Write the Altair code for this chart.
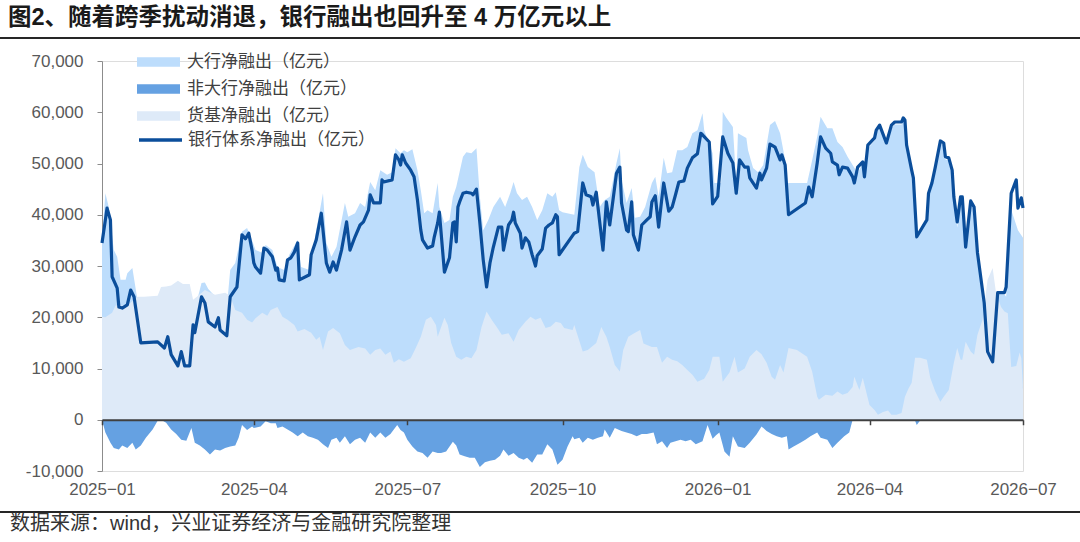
import altair as alt
import pandas as pd

# ---------------- data ----------------
title_text = "图2、随着跨季扰动消退，银行融出也回升至 4 万亿元以上"
source_text = "数据来源：wind，兴业证券经济与金融研究院整理"

series_names = ["大行净融出（亿元）", "非大行净融出（亿元）", "货基净融出（亿元）", "银行体系净融出（亿元）"]
series_colors = ["#BDDDFC", "#65A1E2", "#DEEAF8", "#0B4E9B"]

# 银行体系净融出
line_dates = [
    "2025-01-01", "2025-01-03", "2025-01-04", "2025-01-06", "2025-01-07", "2025-01-10", "2025-01-11", "2025-01-13",
    "2025-01-16", "2025-01-18", "2025-01-20", "2025-01-24", "2025-02-03", "2025-02-07", "2025-02-09", "2025-02-11",
    "2025-02-15", "2025-02-17", "2025-02-19", "2025-02-22", "2025-02-24", "2025-02-25", "2025-03-01", "2025-03-03",
    "2025-03-05", "2025-03-09", "2025-03-11", "2025-03-12", "2025-03-16", "2025-03-18", "2025-03-22", "2025-03-25",
    "2025-03-27", "2025-03-29", "2025-03-31", "2025-04-01", "2025-04-02", "2025-04-05", "2025-04-07", "2025-04-09",
    "2025-04-12", "2025-04-14", "2025-04-15", "2025-04-16", "2025-04-19", "2025-04-21", "2025-04-23", "2025-04-25",
    "2025-04-27", "2025-04-28", "2025-05-04", "2025-05-05", "2025-05-08", "2025-05-11", "2025-05-14", "2025-05-16",
    "2025-05-18", "2025-05-20", "2025-05-23", "2025-05-26", "2025-05-28", "2025-05-31", "2025-06-03", "2025-06-05",
    "2025-06-08", "2025-06-09", "2025-06-11", "2025-06-15", "2025-06-16", "2025-06-17", "2025-06-22", "2025-06-24",
    "2025-06-26", "2025-06-27", "2025-06-28", "2025-06-30", "2025-07-03", "2025-07-05", "2025-07-07", "2025-07-09",
    "2025-07-10", "2025-07-13", "2025-07-16", "2025-07-17", "2025-07-19", "2025-07-20", "2025-07-23", "2025-07-26",
    "2025-07-28", "2025-07-29", "2025-07-30", "2025-07-31", "2025-08-01", "2025-08-03", "2025-08-05", "2025-08-08",
    "2025-08-09", "2025-08-11", "2025-08-13", "2025-08-15", "2025-08-17", "2025-08-19", "2025-08-21", "2025-08-24",
    "2025-08-26", "2025-08-27", "2025-08-30", "2025-09-01", "2025-09-02", "2025-09-03", "2025-09-06", "2025-09-07",
    "2025-09-09", "2025-09-11", "2025-09-13", "2025-09-15", "2025-09-16", "2025-09-19", "2025-09-21", "2025-09-23",
    "2025-09-25", "2025-09-27", "2025-09-28", "2025-09-29", "2025-10-08", "2025-10-10", "2025-10-13", "2025-10-15",
    "2025-10-18", "2025-10-19", "2025-10-21", "2025-10-25", "2025-10-27", "2025-10-29", "2025-11-02", "2025-11-04",
    "2025-11-05", "2025-11-08", "2025-11-09", "2025-11-11", "2025-11-12", "2025-11-15", "2025-11-17", "2025-11-20",
    "2025-11-22", "2025-11-23", "2025-11-25", "2025-11-27", "2025-11-29", "2025-11-30", "2025-12-03", "2025-12-05",
    "2025-12-07", "2025-12-09", "2025-12-12", "2025-12-14", "2025-12-17", "2025-12-20", "2025-12-22", "2025-12-23",
    "2025-12-27", "2025-12-29", "2026-01-01", "2026-01-04", "2026-01-07", "2026-01-10", "2026-01-12", "2026-01-14",
    "2026-01-17", "2026-01-19", "2026-01-20", "2026-01-24", "2026-01-26", "2026-01-27", "2026-01-30", "2026-02-01",
    "2026-02-04", "2026-02-07", "2026-02-08", "2026-02-10", "2026-02-12", "2026-02-22", "2026-02-24", "2026-02-26",
    "2026-03-01", "2026-03-03", "2026-03-06", "2026-03-09", "2026-03-10", "2026-03-13", "2026-03-14", "2026-03-16",
    "2026-03-19", "2026-03-22", "2026-03-23", "2026-03-25", "2026-03-28", "2026-03-29", "2026-03-31", "2026-04-04",
    "2026-04-05", "2026-04-07", "2026-04-11", "2026-04-14", "2026-04-16", "2026-04-20", "2026-04-21", "2026-04-22",
    "2026-04-23", "2026-04-26", "2026-04-27", "2026-04-29", "2026-05-05", "2026-05-06", "2026-05-08", "2026-05-10",
    "2026-05-13", "2026-05-15", "2026-05-16", "2026-05-18", "2026-05-20", "2026-05-21", "2026-05-23", "2026-05-25",
    "2026-05-26", "2026-05-28", "2026-05-31", "2026-06-02", "2026-06-04", "2026-06-08", "2026-06-10", "2026-06-13",
    "2026-06-16", "2026-06-20", "2026-06-21", "2026-06-24", "2026-06-27", "2026-06-28", "2026-06-30", "2026-07-01",
]
line_values = [
    34500, 39000, 41300, 39000, 27900, 25700, 22000, 21800,
    22400, 25300, 24000, 15000, 15200, 14000, 16200, 12700,
    10500, 13300, 10500, 10500, 18500, 17000, 24000, 22800,
    19100, 18100, 19900, 17500, 16400, 24000, 25900, 36100,
    35300, 36400, 33000, 30600, 29800, 28600, 33500, 33100,
    31800, 29200, 29600, 27300, 27100, 31200, 31600, 32700,
    34500, 27300, 28300, 32200, 35100, 40300, 30600, 28800,
    30800, 29200, 33100, 38600, 33100, 35700, 38000, 38600,
    40900, 43900, 42300, 42300, 46800, 46400, 46800, 51700,
    50700, 49700, 51700, 50100, 48700, 47400, 42900, 37000,
    35100, 33500, 33900, 35700, 38400, 40500, 28800, 31600,
    38400, 38600, 34700, 41500, 42500, 44200, 44400, 44200,
    43900, 45000, 38400, 31200, 25900, 30600, 33700, 37600,
    37600, 33100, 38000, 39000, 40500, 38400, 36400, 33500,
    35500, 34700, 32200, 30000, 32000, 33300, 37400, 38000,
    38400, 40000, 39600, 32200, 36400, 36700, 46200, 43900,
    43500, 41900, 44400, 33100, 42500, 38000, 48100, 49300,
    42300, 37000, 36700, 42500, 36100, 33100, 38000, 39000,
    39600, 42500, 43700, 37600, 43500, 46200, 40700, 41500,
    43900, 46400, 46600, 49100, 51100, 51900, 55900, 55600,
    54200, 42100, 43600, 55200, 52000, 50100, 44200, 50700,
    49300, 49300, 47200, 45200, 48100, 46800, 49100, 53800,
    53200, 50700, 51700, 49700, 40000, 42300, 45400, 43500,
    50100, 55200, 53000, 52000, 50300, 49700, 47800, 49300,
    49100, 47400, 46200, 49300, 50300, 47400, 53600, 55000,
    56500, 57500, 54000, 57500, 58100, 58100, 58900, 58500,
    53600, 48700, 47200, 35700, 39000, 44200, 46200, 49300,
    54400, 54000, 51300, 51100, 48700, 43500, 38600, 43500,
    43500, 33700, 42700, 41500, 32600, 22800, 13300, 11300,
    24800, 24800, 25900, 44200, 46800, 41300, 43300, 41300,
]

# 大行净融出
big_dates = [
    "2025-01-01", "2025-01-03", "2025-01-05", "2025-01-08", "2025-01-10", "2025-01-12", "2025-01-15", "2025-01-16",
    "2025-01-19", "2025-01-22", "2025-01-25", "2025-02-03", "2025-02-07", "2025-02-09", "2025-02-11", "2025-02-15",
    "2025-02-17", "2025-02-19", "2025-02-22", "2025-02-24", "2025-02-25", "2025-03-01", "2025-03-03", "2025-03-05",
    "2025-03-09", "2025-03-12", "2025-03-16", "2025-03-18", "2025-03-21", "2025-03-25", "2025-03-28", "2025-03-31",
    "2025-04-02", "2025-04-06", "2025-04-08", "2025-04-12", "2025-04-15", "2025-04-19", "2025-04-22", "2025-04-27",
    "2025-04-29", "2025-05-04", "2025-05-08", "2025-05-12", "2025-05-14", "2025-05-17", "2025-05-20", "2025-05-25",
    "2025-05-27", "2025-05-31", "2025-06-03", "2025-06-06", "2025-06-09", "2025-06-12", "2025-06-15", "2025-06-19",
    "2025-06-22", "2025-06-24", "2025-06-27", "2025-06-29", "2025-07-01", "2025-07-04", "2025-07-07", "2025-07-09",
    "2025-07-11", "2025-07-13", "2025-07-16", "2025-07-19", "2025-07-20", "2025-07-23", "2025-07-26", "2025-07-28",
    "2025-07-30", "2025-08-03", "2025-08-05", "2025-08-08", "2025-08-11", "2025-08-13", "2025-08-15", "2025-08-18",
    "2025-08-21", "2025-08-25", "2025-08-28", "2025-08-31", "2025-09-02", "2025-09-04", "2025-09-07", "2025-09-10",
    "2025-09-13", "2025-09-16", "2025-09-19", "2025-09-22", "2025-09-25", "2025-09-27", "2025-09-29", "2025-10-01",
    "2025-10-08", "2025-10-11", "2025-10-13", "2025-10-16", "2025-10-20", "2025-10-23", "2025-10-26", "2025-10-29",
    "2025-11-02", "2025-11-04", "2025-11-05", "2025-11-08", "2025-11-11", "2025-11-13", "2025-11-16", "2025-11-19",
    "2025-11-23", "2025-11-25", "2025-11-27", "2025-11-30", "2025-12-02", "2025-12-05", "2025-12-08", "2025-12-11",
    "2025-12-14", "2025-12-17", "2025-12-20", "2025-12-23", "2025-12-24", "2025-12-29", "2025-12-30", "2026-01-03",
    "2026-01-04", "2026-01-06", "2026-01-10", "2026-01-12", "2026-01-13", "2026-01-18", "2026-01-19", "2026-01-22",
    "2026-01-25", "2026-01-28", "2026-02-01", "2026-02-04", "2026-02-07", "2026-02-10", "2026-02-11", "2026-02-23",
    "2026-02-25", "2026-03-01", "2026-03-03", "2026-03-07", "2026-03-10", "2026-03-13", "2026-03-16", "2026-03-19",
    "2026-03-22", "2026-03-25", "2026-03-28", "2026-03-29", "2026-03-31", "2026-04-04", "2026-04-05", "2026-04-07",
    "2026-04-11", "2026-04-14", "2026-04-16", "2026-04-20", "2026-04-21", "2026-04-22", "2026-04-23", "2026-04-26",
    "2026-04-27", "2026-04-29", "2026-05-05", "2026-05-06", "2026-05-08", "2026-05-10", "2026-05-13", "2026-05-15",
    "2026-05-16", "2026-05-18", "2026-05-20", "2026-05-21", "2026-05-23", "2026-05-25", "2026-05-26", "2026-05-28",
    "2026-05-31", "2026-06-02", "2026-06-04", "2026-06-08", "2026-06-10", "2026-06-13", "2026-06-16", "2026-06-20",
    "2026-06-21", "2026-06-24", "2026-06-27", "2026-06-28", "2026-06-30", "2026-07-01",
]
big_values = [
    35100, 44200, 41500, 33100, 31800, 27300, 27300, 28600,
    29600, 23400, 21000, 15500, 15000, 16800, 14600, 13500,
    17200, 14400, 12100, 23000, 21500, 26700, 26800, 25500,
    24100, 23000, 21900, 29200, 30600, 36700, 37400, 35000,
    33100, 32600, 34100, 33100, 29800, 29200, 32200, 35100,
    29800, 29200, 37000, 44200, 34500, 31800, 33700, 42300,
    39600, 40300, 42300, 41500, 46400, 44800, 48700, 47800,
    48300, 53000, 52000, 52600, 52200, 52800, 48700, 44800,
    40300, 40900, 40300, 46200, 41500, 38400, 39000, 43500,
    45400, 51300, 52200, 52000, 53000, 43500, 37000, 39000,
    41500, 43500, 41500, 44200, 46400, 44200, 42900, 43500,
    41500, 39000, 40900, 44200, 43500, 44400, 40900, 40500,
    40000, 49300, 51700, 49300, 48300, 41500, 42900, 43500,
    50100, 53000, 46800, 42300, 45200, 39400, 39600, 41500,
    46200, 47400, 43500, 51100, 48100, 48300, 52600, 52600,
    53200, 55900, 56500, 59800, 56500, 52000, 46200, 46200,
    60100, 59000, 57100, 46200, 55900, 55000, 52600, 49100,
    48300, 49700, 57500, 58300, 55900, 50700, 46200, 46200,
    49100, 55200, 59100, 56900, 56900, 54200, 53200, 51300,
    49700, 48100, 50100, 47800, 53000, 54500, 56000, 57000,
    53500, 57000, 57600, 57600, 58400, 58000, 53000, 48000,
    46500, 35500, 38500, 43700, 45700, 48800, 54000, 53500,
    50800, 50600, 48200, 43000, 37500, 43000, 43000, 33000,
    42000, 41000, 32000, 22000, 13000, 11000, 24500, 24500,
    24000, 41000, 38000, 37000, 36000, 35500,
]

# 非大行净融出
nonbig_dates = [
    "2025-01-01", "2025-01-03", "2025-01-06", "2025-01-08", "2025-01-11", "2025-01-13", "2025-01-16", "2025-01-19",
    "2025-01-21", "2025-01-24", "2025-01-27", "2025-01-31", "2025-02-03", "2025-02-05", "2025-02-08", "2025-02-11",
    "2025-02-14", "2025-02-17", "2025-02-20", "2025-02-23", "2025-02-25", "2025-02-28", "2025-03-03", "2025-03-06",
    "2025-03-09", "2025-03-12", "2025-03-15", "2025-03-18", "2025-03-21", "2025-03-23", "2025-03-25", "2025-03-28",
    "2025-03-31", "2025-04-01", "2025-04-05", "2025-04-08", "2025-04-11", "2025-04-14", "2025-04-15", "2025-04-18",
    "2025-04-21", "2025-04-24", "2025-04-27", "2025-04-30", "2025-05-03", "2025-05-06", "2025-05-09", "2025-05-12",
    "2025-05-15", "2025-05-17", "2025-05-20", "2025-05-22", "2025-05-25", "2025-05-28", "2025-05-31", "2025-06-03",
    "2025-06-06", "2025-06-09", "2025-06-12", "2025-06-15", "2025-06-18", "2025-06-21", "2025-06-25", "2025-06-27",
    "2025-06-29", "2025-07-01", "2025-07-04", "2025-07-07", "2025-07-10", "2025-07-13", "2025-07-16", "2025-07-19",
    "2025-07-21", "2025-07-24", "2025-07-28", "2025-07-30", "2025-08-01", "2025-08-04", "2025-08-07", "2025-08-10",
    "2025-08-13", "2025-08-16", "2025-08-19", "2025-08-22", "2025-08-25", "2025-08-27", "2025-08-30", "2025-09-02",
    "2025-09-05", "2025-09-08", "2025-09-10", "2025-09-13", "2025-09-16", "2025-09-19", "2025-09-22", "2025-09-25",
    "2025-09-28", "2025-10-01", "2025-10-04", "2025-10-07", "2025-10-08", "2025-10-11", "2025-10-13", "2025-10-16",
    "2025-10-19", "2025-10-22", "2025-10-25", "2025-10-26", "2025-10-29", "2025-11-01", "2025-11-05", "2025-11-08",
    "2025-11-11", "2025-11-14", "2025-11-17", "2025-11-20", "2025-11-24", "2025-11-26", "2025-11-29", "2025-12-02",
    "2025-12-04", "2025-12-07", "2025-12-10", "2025-12-13", "2025-12-16", "2025-12-19", "2025-12-23", "2025-12-26",
    "2025-12-29", "2025-12-31", "2026-01-02", "2026-01-05", "2026-01-08", "2026-01-10", "2026-01-13", "2026-01-17",
    "2026-01-20", "2026-01-24", "2026-01-27", "2026-01-30", "2026-02-02", "2026-02-05", "2026-02-08", "2026-02-11",
    "2026-02-12", "2026-02-15", "2026-02-19", "2026-02-22", "2026-02-25", "2026-03-01", "2026-03-03", "2026-03-07",
    "2026-03-10", "2026-03-13", "2026-03-17", "2026-03-20", "2026-03-22", "2026-03-31", "2026-04-27", "2026-04-29",
    "2026-05-02", "2026-06-13", "2026-06-21", "2026-06-24", "2026-06-27", "2026-06-28", "2026-06-30", "2026-07-01",
]
nonbig_values = [
    0, -2500, -4500, -5500, -5800, -5000, -5500, -4500,
    -5800, -5000, -3500, -1900, -200, 0, -600, -1900,
    -2800, -3900, -4100, -1600, -4500, -5000, -5800, -6800,
    -5800, -6000, -5500, -5200, -5000, -3500, -1000, -2000,
    -1300, -1600, -1300, -300, -700, -700, -1600, -1300,
    -1900, -2500, -3200, -2500, -3200, -3500, -3900, -4800,
    -5500, -3900, -3500, -4500, -3200, -4800, -3900, -3500,
    -4500, -2500, -3500, -2500, -3500, -2800, -1000, -2000,
    -2500, -3900, -5200, -6200, -6500, -7400, -6200, -6500,
    -6500, -6200, -4300, -5000, -6800, -7100, -7400, -7400,
    -9200, -8300, -8000, -7800, -7000, -5800, -7000, -6500,
    -7400, -7800, -7400, -8400, -6800, -6800, -4800, -5800,
    -8800, -7800, -5200, -3200, -3800, -3500, -4500, -3500,
    -3900, -3500, -3200, -1900, -3500, -1600, -2200, -2500,
    -2800, -3200, -2800, -2800, -2500, -4800, -4200, -5500,
    -4500, -4200, -3900, -4200, -3900, -4800, -4200, -1000,
    -3700, -3000, -2500, -6200, -7200, -3200, -5200, -5500,
    -4500, -2900, -1300, -2200, -2800, -3200, -3500, -3200,
    -5800, -5200, -4500, -3900, -3200, -2500, -3500, -3900,
    -5500, -4500, -3200, -2500, 0, 600, 700, -1000,
    300, 300, 1900, 3200, 8800, 4300, 7300, 5800,
]

# 货基净融出
mmf_dates = [
    "2025-01-01", "2025-01-03", "2025-01-07", "2025-01-09", "2025-01-16", "2025-01-22", "2025-01-26", "2025-02-03",
    "2025-02-05", "2025-02-08", "2025-02-11", "2025-02-15", "2025-02-18", "2025-02-22", "2025-02-24", "2025-02-27",
    "2025-03-03", "2025-03-09", "2025-03-15", "2025-03-18", "2025-03-21", "2025-03-25", "2025-03-28", "2025-03-31",
    "2025-04-02", "2025-04-06", "2025-04-09", "2025-04-11", "2025-04-15", "2025-04-18", "2025-04-21", "2025-04-25",
    "2025-04-27", "2025-05-01", "2025-05-05", "2025-05-08", "2025-05-10", "2025-05-12", "2025-05-15", "2025-05-18",
    "2025-05-22", "2025-05-25", "2025-05-28", "2025-06-02", "2025-06-06", "2025-06-09", "2025-06-12", "2025-06-15",
    "2025-06-18", "2025-06-21", "2025-06-23", "2025-06-26", "2025-06-29", "2025-07-03", "2025-07-06", "2025-07-09",
    "2025-07-12", "2025-07-15", "2025-07-18", "2025-07-19", "2025-07-23", "2025-07-25", "2025-07-27", "2025-07-30",
    "2025-08-02", "2025-08-05", "2025-08-08", "2025-08-11", "2025-08-14", "2025-08-17", "2025-08-20", "2025-08-23",
    "2025-08-26", "2025-08-30", "2025-09-02", "2025-09-05", "2025-09-09", "2025-09-12", "2025-09-15", "2025-09-18",
    "2025-09-21", "2025-09-24", "2025-09-27", "2025-09-30", "2025-10-02", "2025-10-07", "2025-10-08", "2025-10-13",
    "2025-10-16", "2025-10-21", "2025-10-24", "2025-10-27", "2025-10-29", "2025-11-01", "2025-11-04", "2025-11-06",
    "2025-11-09", "2025-11-13", "2025-11-16", "2025-11-18", "2025-11-23", "2025-11-26", "2025-11-29", "2025-12-02",
    "2025-12-05", "2025-12-08", "2025-12-11", "2025-12-14", "2025-12-17", "2025-12-20", "2025-12-24", "2025-12-27",
    "2025-12-29", "2026-01-02", "2026-01-04", "2026-01-08", "2026-01-11", "2026-01-13", "2026-01-17", "2026-01-20",
    "2026-01-24", "2026-01-27", "2026-01-30", "2026-02-02", "2026-02-04", "2026-02-07", "2026-02-09", "2026-02-12",
    "2026-02-17", "2026-02-23", "2026-02-26", "2026-03-01", "2026-03-02", "2026-03-06", "2026-03-10", "2026-03-13",
    "2026-03-16", "2026-03-19", "2026-03-22", "2026-03-23", "2026-03-26", "2026-03-28", "2026-03-30", "2026-04-01",
    "2026-04-04", "2026-04-06", "2026-04-09", "2026-04-12", "2026-04-14", "2026-04-17", "2026-04-20", "2026-04-22",
    "2026-04-24", "2026-04-26", "2026-04-28", "2026-05-01", "2026-05-05", "2026-05-07", "2026-05-10", "2026-05-13",
    "2026-05-15", "2026-05-18", "2026-05-21", "2026-05-23", "2026-05-25", "2026-05-26", "2026-05-28", "2026-05-31",
    "2026-06-02", "2026-06-04", "2026-06-07", "2026-06-10", "2026-06-13", "2026-06-15", "2026-06-18", "2026-06-20",
    "2026-06-22", "2026-06-24", "2026-06-27", "2026-06-29", "2026-06-30", "2026-07-01",
]
mmf_values = [
    20100, 20000, 20900, 22300, 22300, 24000, 24000, 24200,
    25900, 26000, 26200, 27100, 26500, 26500, 23400, 24200,
    25300, 24400, 24800, 24200, 21400, 20900, 19500, 19000,
    19800, 20900, 20300, 21400, 22000, 20100, 19500, 18500,
    17200, 17700, 17000, 15600, 16200, 13600, 17200, 17900,
    16900, 14600, 13600, 14200, 13900, 12700, 13600, 13900,
    12700, 13300, 11100, 11800, 11300, 12000, 14000, 16200,
    19500, 20100, 18500, 16200, 19900, 18500, 15000, 12300,
    11700, 12300, 12000, 13600, 18100, 21100, 19500, 18100,
    16600, 16900, 15200, 17500, 19100, 20100, 19500, 19900,
    17900, 18200, 19100, 18900, 17900, 17500, 18500, 13300,
    13600, 15000, 18100, 16200, 14200, 10700, 9400, 13600,
    16200, 17000, 17500, 14900, 14200, 14200, 11100, 12300,
    11700, 11400, 10700, 9700, 8800, 7400, 8000, 9700,
    12300, 12300, 7400, 9200, 12300, 9200, 10000, 12300,
    13600, 12800, 11100, 8400, 7800, 10700, 9200, 14000,
    13600, 12300, 9400, 4500, 3900, 4900, 4700, 5500,
    4900, 5200, 6400, 8400, 5800, 8200, 5500, 2900,
    1900, 1000, 1500, 1800, 1000, 1000, 1300, 4500,
    6000, 7200, 12100, 12100, 11700, 8200, 5500, 3500,
    4500, 5800, 11100, 14000, 11700, 11700, 15200, 13300,
    12700, 16600, 19500, 27300, 29600, 24800, 22000, 21100,
    20800, 10300, 10500, 13100, 12000, 6000,
]

y_ticks = [-10000, 0, 10000, 20000, 30000, 40000, 50000, 60000, 70000]
x_tick_months = [(2025, 1), (2025, 4), (2025, 7), (2025, 10), (2026, 1), (2026, 4), (2026, 7)]

# ---------------- frames ----------------
def frame(dates, values, name):
    return pd.DataFrame({"date": pd.to_datetime(dates), "value": values, "series": name})

df_big = frame(big_dates, big_values, series_names[0])
df_nonbig = frame(nonbig_dates, nonbig_values, series_names[1])
df_mmf = frame(mmf_dates, mmf_values, series_names[2])
df_line = frame(line_dates, line_values, series_names[3])

# ---------------- encodings ----------------
LATIN = "Liberation Sans"
CJK = "Noto Sans CJK SC"
MIX = "Liberation Sans, Noto Sans CJK SC"

x_enc = alt.X(
    "date:T",
    title=None,
    scale=alt.Scale(domain=[alt.DateTime(year=2025, month=1, date=1),
                            alt.DateTime(year=2026, month=7, date=1)]),
    axis=alt.Axis(
        values=[alt.DateTime(year=y, month=m, date=1) for y, m in x_tick_months],
        labelExpr="timeFormat(datum.value, '%Y') + '\u2212' + timeFormat(datum.value, '%m')",
        offset=-51.25,
        domainColor="#404040", domainWidth=2,
        tickColor="#404040", tickSize=5, tickWidth=1.5,
        labelPadding=57, labelFont=LATIN, labelFontSize=17, labelColor="#595959",
        labelFlush=False, labelOverlap=False, grid=False, zindex=1,
    ),
)
y_enc = alt.Y(
    "value:Q",
    title=None,
    scale=alt.Scale(domain=[-10000, 70000], nice=False, zero=False),
    axis=alt.Axis(
        values=y_ticks,
        labelExpr="replace(format(datum.value, ','), '\u2212', '-')",
        domainColor="#8c8c8c", domainWidth=1,
        tickColor="#8c8c8c", tickSize=5,
        labelPadding=14, labelFont=LATIN, labelFontSize=17, labelColor="#595959",
        grid=False,
    ),
)

fill_scale = alt.Scale(domain=series_names[:3], range=series_colors[:3])
fill_legend = alt.Legend(
    title=None, orient="none", legendX=35, legendY=-7, padding=0,
    symbolType="M-1,-0.22H1V0.22H-1Z", symbolSize=1849, symbolStrokeWidth=0, symbolOpacity=1,
    labelFont=CJK, labelFontSize=17, labelColor="#404040", labelOffset=7, labelLimit=0,
    clipHeight=16, rowPadding=10,
)
stroke_legend = alt.Legend(
    title=None, orient="none", legendX=35, legendY=71, padding=0,
    symbolType="stroke", symbolSize=1849, symbolStrokeWidth=3.5, symbolOpacity=1,
    labelFont=CJK, labelFontSize=17, labelColor="#404040", labelOffset=4, labelLimit=0,
    clipHeight=16,
)

def area_layer(df):
    return alt.Chart(df).mark_area(interpolate="linear", opacity=1).encode(
        x=x_enc, y=y_enc,
        fill=alt.Fill("series:N", scale=fill_scale, legend=fill_legend),
    )

big_area = area_layer(df_big)
nonbig_area = area_layer(df_nonbig)
mmf_area = area_layer(df_mmf)

line = alt.Chart(df_line).mark_line(strokeWidth=3.2, strokeJoin="round", interpolate="linear").encode(
    x=x_enc, y=y_enc,
    stroke=alt.Stroke("series:N", scale=alt.Scale(domain=[series_names[3]], range=[series_colors[3]]),
                      legend=stroke_legend),
)

# decorations: title, rules, source
title_mark = alt.Chart(pd.DataFrame({"t": [title_text]})).mark_text(
    align="left", baseline="middle", font=MIX, fontSize=23.5, fontWeight="bold", color="#1a1a1a"
).encode(x=alt.value(-94), y=alt.value(-43), text="t:N")

top_rule = alt.Chart(pd.DataFrame({"k": [0]})).mark_rule(color="#262626", strokeWidth=2).encode(
    x=alt.value(-102), x2=alt.value(978), y=alt.value(-23)
)
bottom_rule = alt.Chart(pd.DataFrame({"k": [0]})).mark_rule(color="#262626", strokeWidth=2).encode(
    x=alt.value(-102), x2=alt.value(978), y=alt.value(451)
)
source_mark = alt.Chart(pd.DataFrame({"t": [source_text]})).mark_text(
    align="left", baseline="middle", font=MIX, fontSize=20, color="#333333"
).encode(x=alt.value(-92), y=alt.value(463), text="t:N")

chart = alt.layer(
    big_area, nonbig_area, mmf_area, line, title_mark, top_rule, bottom_rule, source_mark
).resolve_scale(fill="shared").properties(
    width=921, height=410,
    autosize=alt.AutoSizeParams(type="none"),
    padding={"left": 102, "top": 61, "right": 57, "bottom": 71},
).configure_view(stroke=None).configure(background="white")

chart.save("out.html", embed_options={"renderer": "svg", "actions": False})
